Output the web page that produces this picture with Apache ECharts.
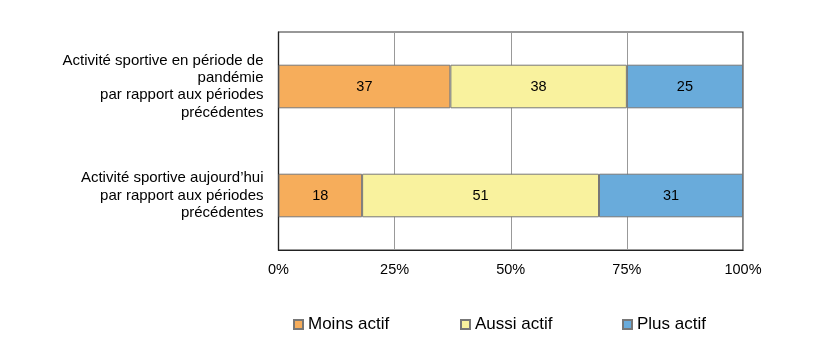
<!DOCTYPE html>
<html><head><meta charset="utf-8">
<script src="https://cdn.jsdelivr.net/npm/echarts@6/dist/echarts.min.js"></script>
<style>html,body{margin:0;padding:0;background:#fff}#c{width:817px;height:360px}</style>
</head><body><div id="c"></div>
<script>
const categories = [
  "Activité sportive aujourd’hui\npar rapport aux périodes\nprécédentes",
  "Activité sportive en période de\npandémie\npar rapport aux périodes\nprécédentes"
];
const seriesNames = ["Moins actif", "Aussi actif", "Plus actif"];
const moinsActif = [18, 37];
const aussiActif = [51, 38];
const plusActif = [31, 25];
const xTicks = [0, 25, 50, 75, 100];
const colors = ["#F6AD5B", "#F9F29E", "#69ABDB"];
const values = [moinsActif, aussiActif, plusActif];

const chart = echarts.init(document.getElementById('c'));
const font = "Liberation Sans, Arial, sans-serif";
chart.setOption({
  animation: false,
  grid: {left: 278.5, right: 74, top: 32, bottom: 110, show: true, borderColor: '#333', borderWidth: 1.2},
  xAxis: {
    type: 'value', min: xTicks[0], max: xTicks[xTicks.length-1], interval: 25,
    axisLine: {show: true, lineStyle: {color: '#222', width: 1.2}},
    axisTick: {show: false},
    splitLine: {show: true, lineStyle: {color: '#999', width: 1}},
    axisLabel: {formatter: v => v + '%', color: '#000', fontSize: 14.5, fontFamily: font, margin: 12}
  },
  yAxis: {
    type: 'category', data: categories,
    axisLine: {show: true, lineStyle: {color: '#222', width: 1.2}},
    axisTick: {show: false},
    axisLabel: {color: '#000', fontSize: 15, fontFamily: font, lineHeight: 17.3, align: 'right', margin: 15}
  },
  legend: [0,1,2].map((i) => ({
    data: [seriesNames[i]], left: [288, 455, 617][i], top: 311,
    itemWidth: 9, itemHeight: 9, itemGap: 0,
    icon: 'rect',
    textStyle: {color: '#000', fontSize: 17, fontFamily: font}
  })),
  series: values.map((v, i) => ({
    name: seriesNames[i], type: 'bar', stack: 'total', data: v,
    barWidth: '40%',
    itemStyle: {color: colors[i], borderColor: '#777', borderWidth: 1},
    label: {show: true, position: 'inside', color: '#000', fontSize: 14.5, fontFamily: font}
  }))
});
</script></body></html>
